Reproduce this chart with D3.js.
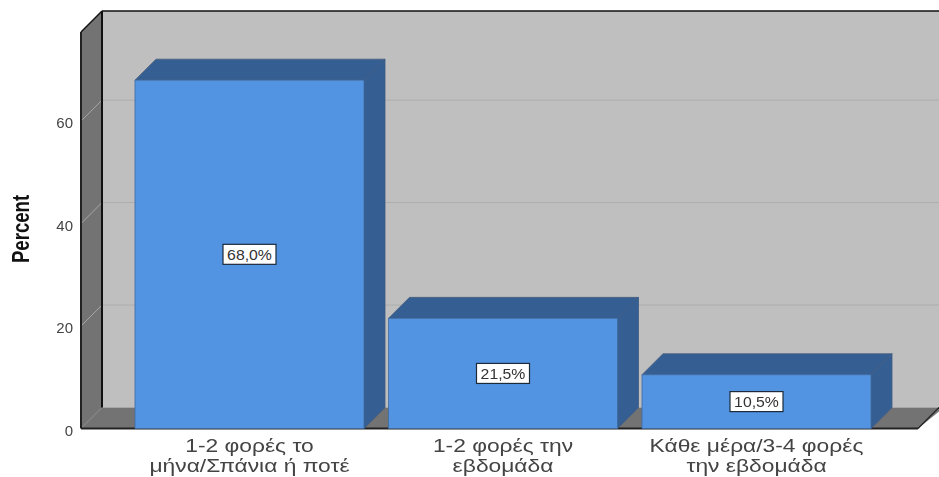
<!DOCTYPE html>
<html><head><meta charset="utf-8">
<script src="https://cdnjs.cloudflare.com/ajax/libs/d3/7.8.5/d3.min.js"></script>
<style>html,body{margin:0;padding:0;background:#fff}svg{display:block;filter:blur(.4px)}
text{font-family:"Liberation Sans",Arial,sans-serif}</style></head><body>
<svg id="c" width="939" height="477"></svg>
<script>
const categories = [["1-2 φορές το","μήνα/Σπάνια ή ποτέ"],["1-2 φορές την","εβδομάδα"],["Κάθε μέρα/3-4 φορές","την εβδομάδα"]];
const values = [68.0, 21.5, 10.5];
const valueLabels = ["68,0%","21,5%","10,5%"];
const yTicks = [0,20,40,60];
const axisTitle = "Percent";

const D = 21, xL = 81, xR = 918, y0 = 428.5;
const svg = d3.select("#c");
const y = d3.scaleLinear().domain([0,77.4]).range([y0,32]);
const x = d3.scaleBand().domain(d3.range(categories.length)).range([122.75,883.25]).paddingInner(.0966).paddingOuter(.0483);
const wallTop = y(77.4);
const poly = (pts,fill,stroke,sw) => svg.append("polygon").attr("points",pts.map(p=>p.join(",")).join(" ")).attr("fill",fill).attr("stroke",stroke||"none").attr("stroke-width",sw||0);

// back wall, side wall, floor
poly([[xL+D,wallTop-D],[xR+D+5,wallTop-D],[xR+D+5,y0-D],[xL+D,y0-D]],"#bfbfbf");
poly([[xL,wallTop],[xL+D,wallTop-D],[xL+D,y0-D],[xL,y0]],"#737373");
poly([[xL,y0],[xL+D,y0-D],[xR+D+5,y0-D],[xR,y0]],"#737373");

// gridlines
yTicks.filter(t=>t>0).forEach(t=>{
  svg.append("line").attr("x1",xL+D).attr("x2",939).attr("y1",y(t)-D).attr("y2",y(t)-D).attr("stroke","#adadad").attr("stroke-width",1);
  svg.append("line").attr("x1",xL).attr("x2",xL+D).attr("y1",y(t)).attr("y2",y(t)-D).attr("stroke","#a8a8a8").attr("stroke-width",1);
});

// frame edges
const edge=(a,b,c,d,w,col)=>svg.append("line").attr("x1",a).attr("y1",b).attr("x2",c).attr("y2",d).attr("stroke",col||"#111").attr("stroke-width",w||1.5);
edge(xL+D,wallTop-D,939,wallTop-D,1.5);
edge(xL+D,wallTop-D,xL+D,y0-D,2);
edge(xL,wallTop,xL,y0,2,"#222");
edge(xL,wallTop,xL+D,wallTop-D,1.5);
edge(xL,y0,xR,y0,2,"#222");
edge(xR,y0,xR+D,y0-D,1.2,"#222");

// bars
values.forEach((v,i)=>{
  const a=x(i), b=a+x.bandwidth(), t=y(v);
  poly([[a,t],[a+D,t-D],[b+D,t-D],[b,t]],"#355e92","#4a5f7c",.8);
  poly([[b,t],[b+D,t-D],[b+D,y0-D],[b,y0]],"#355e92","#3d5a84",.8);
  poly([[a,t],[b,t],[b,y0],[a,y0]],"#5294e2","#3f6aa0",.8);
  // value label
  const cx=(a+b)/2, cy=(t+y0)/2;
  svg.append("rect").attr("x",cx-26.5).attr("y",cy-10).attr("width",53).attr("height",20).attr("fill","#fff").attr("stroke","#1c2a3a").attr("stroke-width",1.2);
  svg.append("text").attr("transform",`translate(${cx},${cy+5.5}) scale(1.13,1)`).attr("text-anchor","middle").attr("font-size",14).attr("fill","#333").text(valueLabels[i]);
  // category label
  categories[i].forEach((s,j)=>svg.append("text").attr("transform",`translate(${cx},${452+j*20}) scale(1.2,1)`).attr("text-anchor","middle").attr("font-size",19).attr("fill","#444").text(s));
});

// y axis labels
const ax = svg.append("g").attr("transform",`translate(${xL-8},2)`).call(d3.axisLeft(y).tickValues(yTicks).tickSize(0).tickPadding(0).tickFormat(d3.format("d")));
ax.select(".domain").remove();
ax.selectAll("text").attr("font-size",15).attr("font-family",'"Liberation Sans",Arial,sans-serif').attr("fill","#444");

svg.append("text").attr("transform","translate(29,229) rotate(-90) scale(.93,1.15)").attr("text-anchor","middle").attr("font-size",20).attr("font-weight","bold").attr("fill","#111").text(axisTitle);
</script></body></html>
